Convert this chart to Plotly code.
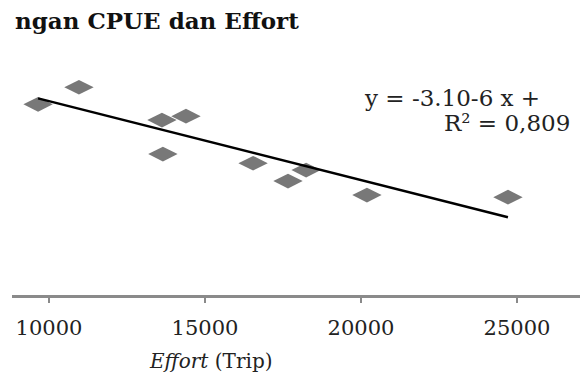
import plotly.graph_objects as go

# Data
effort = [9650, 10960, 13620, 14390, 13650, 16540, 17660, 18240, 20190, 24710]
cpue = [0.0725, 0.0790, 0.0665, 0.0680, 0.0536, 0.0501, 0.0433, 0.0475, 0.0380, 0.0372]
slope = -3.0e-6
intercept = 0.1037
x_ticks = [10000, 15000, 20000, 25000]
x_tick_labels = ["10000", "15000", "20000", "25000"]
title_text = "ngan CPUE dan Effort"
eq_text = "y = -3.10-6 x +"
r2_text = "R² = 0,809"

x_line = [min(effort), max(effort)]
y_line = [slope * v + intercept for v in x_line]

# page adds an 8px body margin, so the figure is 8px smaller than the window
W, H = 580, 366
ml, mr, mt, mb = 4, 0, 24, 79
pw, ph = W - ml - mr, H - mt - mb


def px(fx):
    return (fx - ml) / pw


def py(fy):
    return (H - mb - fy) / ph


fig = go.Figure()
fig.add_trace(go.Scatter(
    x=effort, y=cpue, mode="markers",
    marker=dict(symbol="diamond-wide", size=21, color="#787878"),
    showlegend=False, hoverinfo="skip"))
fig.add_trace(go.Scatter(
    x=x_line, y=y_line, mode="lines",
    line=dict(color="black", width=2.5),
    showlegend=False, hoverinfo="skip"))

serif = "DejaVu Serif"
fig.update_layout(
    width=W, height=H,
    margin=dict(l=ml, r=mr, t=mt, b=mb),
    paper_bgcolor="white", plot_bgcolor="white",
    xaxis=dict(range=[8814, 27275], tickvals=x_ticks, ticktext=x_tick_labels,
               showgrid=False, zeroline=False, showline=True,
               linecolor="#8a8a8a", linewidth=2.5,
               ticks="outside", ticklen=5, tickwidth=2, tickcolor="#8a8a8a",
               ticklabelstandoff=7,
               tickfont=dict(family=serif, size=21, color="#222")),
    yaxis=dict(range=[0, 0.1], visible=False),
    annotations=[
        dict(text=title_text, xref="paper", yref="paper",
             x=px(5), y=py(13), xanchor="left", yanchor="middle",
             showarrow=False,
             font=dict(family=serif, size=23, color="#111", weight="bold")),
        dict(text="<i>Effort</i> (Trip)", xref="paper", yref="paper",
             x=px(202), y=py(353),
             xanchor="center", yanchor="middle", showarrow=False,
             font=dict(family=serif, size=20, color="#222")),
        dict(text=eq_text, xref="paper", yref="paper",
             x=px(354), y=py(90),
             xanchor="left", yanchor="middle", showarrow=False,
             font=dict(family=serif, size=23, color="#222")),
        dict(text=r2_text, xref="paper", yref="paper",
             x=px(434), y=py(115),
             xanchor="left", yanchor="middle", showarrow=False,
             font=dict(family=serif, size=23, color="#222")),
    ],
)

fig.write_html("out.html")
